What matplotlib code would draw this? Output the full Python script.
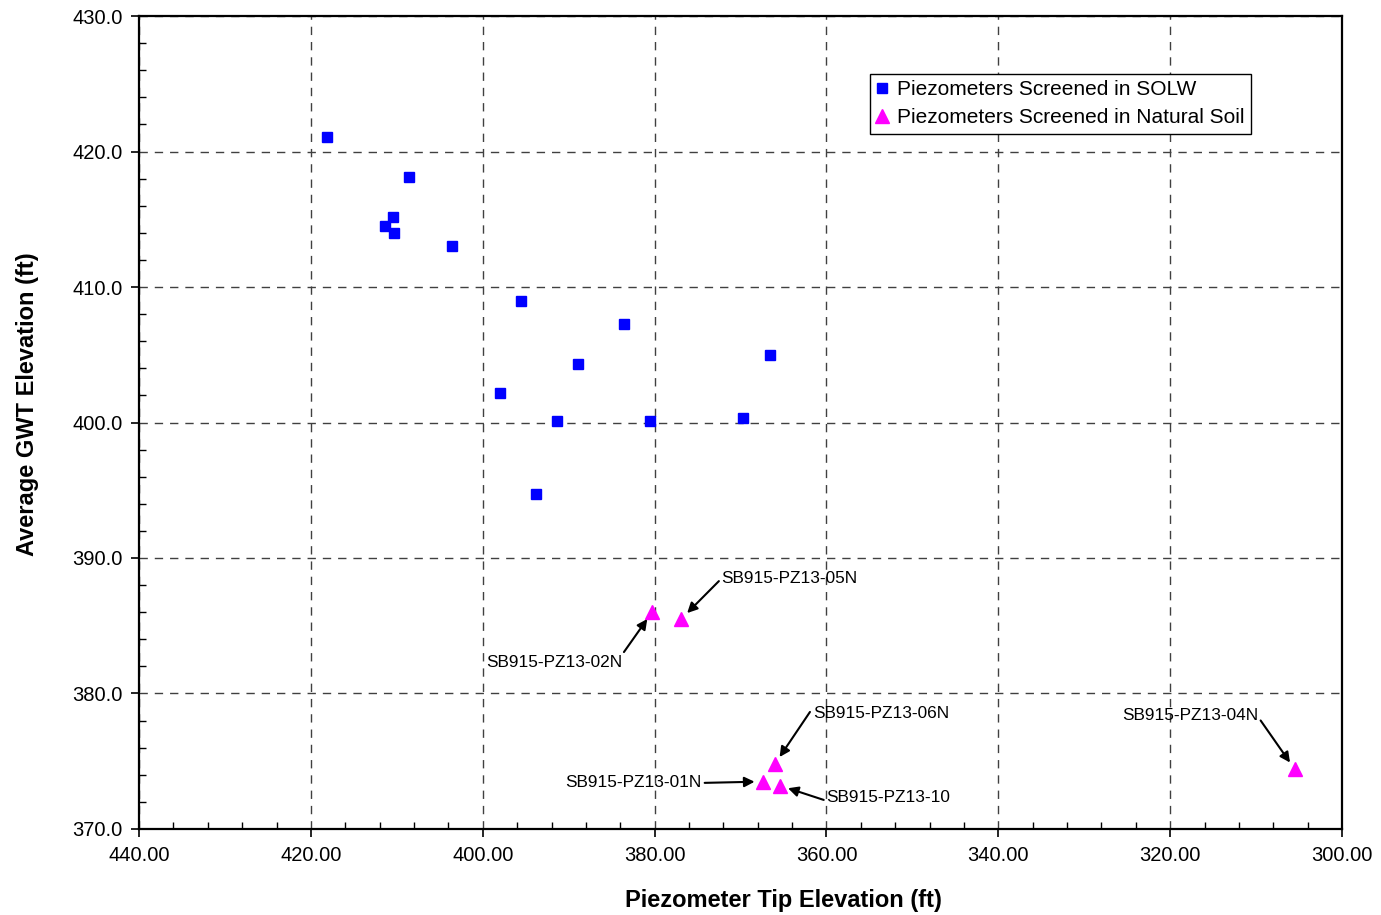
import matplotlib
matplotlib.use("Agg")
import matplotlib.pyplot as plt
from matplotlib.ticker import MultipleLocator, FormatStrFormatter

plt.rcParams['font.family'] = ['Liberation Sans', 'DejaVu Sans']

# Piezometers screened in SOLW
solw_tip = [418.1, 408.6, 410.4, 411.4, 410.3, 403.6, 395.5, 383.6, 388.9,
            398.0, 391.4, 380.5, 369.7, 366.6, 393.8]
solw_gwt = [421.1, 418.1, 415.2, 414.5, 414.0, 413.0, 409.0, 407.3, 404.3,
            402.2, 400.1, 400.1, 400.3, 405.0, 394.7]

# Piezometers screened in natural soil
nat_names = ["SB915-PZ13-02N", "SB915-PZ13-05N", "SB915-PZ13-06N",
             "SB915-PZ13-01N", "SB915-PZ13-10", "SB915-PZ13-04N"]
nat_tip = [380.3, 376.9, 366.0, 367.4, 365.4, 305.5]
nat_gwt = [386.0, 385.5, 374.8, 373.5, 373.2, 374.4]

# label placement: text position (data), ha, va, arrow start on text box
label_layout = [
    ((383.8, 382.3), 'right', 'center', (1.0, 1.0)),
    ((372.2, 388.5), 'left', 'center', (0.0, 0.5)),
    ((361.6, 378.5), 'left', 'center', (0.0, 0.9)),
    ((374.5, 373.4), 'right', 'center', (1.0, 0.5)),
    ((360.0, 372.3), 'left', 'center', (0.0, 0.3)),
    ((309.8, 378.4), 'right', 'center', (0.97, 0.8)),
]

fig = plt.figure(figsize=(13.81, 9.15), dpi=100)
ax = fig.add_axes([0.1007, 0.0940, 0.8711, 0.8885])

ax.plot(solw_tip, solw_gwt, linestyle='none', marker='s', markersize=7.5,
        color='#0000ff', markeredgecolor='#0000ff',
        label='Piezometers Screened in SOLW', zorder=3)
ax.plot(nat_tip, nat_gwt, linestyle='none', marker='^', markersize=10,
        color='#ff00ff', markeredgecolor='#ff00ff',
        label='Piezometers Screened in Natural Soil', zorder=3)

for name, x, y, (pos, ha, va, rp) in zip(nat_names, nat_tip, nat_gwt, label_layout):
    ax.annotate(name, xy=(x, y), xytext=pos, ha=ha, va=va, fontsize=12.4,
                arrowprops=dict(arrowstyle='-|>', color='black', lw=1.5,
                                mutation_scale=15, shrinkA=0, shrinkB=6,
                                relpos=rp), zorder=4)

ax.set_xlim(440, 300)
ax.set_ylim(370, 430)
ax.xaxis.set_major_locator(MultipleLocator(20))
ax.xaxis.set_minor_locator(MultipleLocator(4))
ax.yaxis.set_major_locator(MultipleLocator(10))
ax.yaxis.set_minor_locator(MultipleLocator(2))
ax.xaxis.set_major_formatter(FormatStrFormatter('%.2f'))
ax.yaxis.set_major_formatter(FormatStrFormatter('%.1f'))

ax.tick_params(which='major', direction='out', length=6, width=1.2,
               labelsize=14.5, pad=6, colors='black')
ax.tick_params(which='minor', direction='in', length=5, width=1)

ax.grid(True, which='major', linestyle=(0, (6, 5)), color='#404040', lw=1)
for s in ax.spines.values():
    s.set_linewidth(1.6)
    s.set_color('black')

ax.set_xlabel('Piezometer Tip Elevation (ft)', fontsize=17, fontweight='bold',
              va='top')
ax.set_ylabel('Average GWT Elevation (ft)', fontsize=17, fontweight='bold',
              va='center')
ax.xaxis.set_label_coords(0.536, -0.0738)
ax.yaxis.set_label_coords(-0.093, 0.523)

leg = ax.legend(loc='upper right', bbox_to_anchor=(0.924, 0.929), fontsize=15,
                frameon=True, fancybox=False, framealpha=1, edgecolor='black',
                handlelength=0.6, handletextpad=0.4, borderpad=0.3,
                labelspacing=0.45, borderaxespad=0)
leg.get_frame().set_linewidth(1)

fig.savefig('out.png', dpi=100)
